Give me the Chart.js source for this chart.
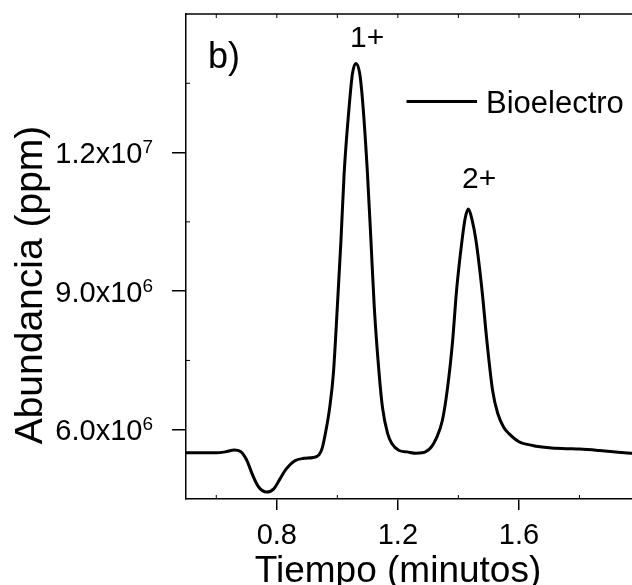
<!DOCTYPE html>
<html>
<head>
<meta charset="utf-8">
<script src="https://cdn.jsdelivr.net/npm/chart.js@4/dist/chart.umd.min.js"></script>
<style>
  html, body { margin: 0; padding: 0; overflow: hidden; background: #fff; }
  #wrap { position: absolute; left: 0; top: 0; width: 660px; height: 585px; }
</style>
</head>
<body>
<div id="wrap"><canvas id="c" width="660" height="585"></canvas></div>
<script>
// ---- data ----
const timeMin = [0.50, 0.55, 0.60, 0.63, 0.66, 0.68, 0.70, 0.72, 0.74, 0.767, 0.79, 0.81, 0.83, 0.86, 0.89, 0.92, 0.94, 0.95, 0.96, 0.975, 0.987, 1.00, 1.012, 1.0225, 1.039, 1.05, 1.061, 1.074, 1.085, 1.0995, 1.111, 1.122, 1.138, 1.149, 1.166, 1.18, 1.204, 1.23, 1.26, 1.28, 1.293, 1.31, 1.326, 1.347, 1.364, 1.381, 1.394, 1.412, 1.423, 1.433, 1.445, 1.458, 1.478, 1.494, 1.513, 1.53, 1.55, 1.568, 1.60, 1.645, 1.70, 1.755, 1.80, 1.866, 1.92, 1.971, 2.0];
const abundance = [5.50e6, 5.50e6, 5.50e6, 5.52e6, 5.56e6, 5.53e6, 5.35e6, 5.02e6, 4.76e6, 4.65e6, 4.72e6, 4.93e6, 5.14e6, 5.33e6, 5.38e6, 5.40e6, 5.46e6, 5.60e6, 5.90e6, 6.49e6, 7.22e6, 8.66e6, 10.10e6, 11.55e6, 12.99e6, 13.71e6, 13.93e6, 13.71e6, 12.99e6, 11.55e6, 10.10e6, 8.66e6, 7.22e6, 6.49e6, 5.92e6, 5.70e6, 5.55e6, 5.52e6, 5.49e6, 5.50e6, 5.53e6, 5.62e6, 5.80e6, 6.20e6, 6.90e6, 7.93e6, 9.02e6, 10.10e6, 10.60e6, 10.78e6, 10.55e6, 10.10e6, 9.02e6, 7.93e6, 6.85e6, 6.35e6, 6.05e6, 5.91e6, 5.74e6, 5.66e6, 5.61e6, 5.59e6, 5.58e6, 5.55e6, 5.52e6, 5.49e6, 5.48e6];
const seriesName = 'Bioelectro';
const xTicks = [0.8, 1.2, 1.6];
const xMinorTicks = [0.6, 1.0, 1.4, 1.8];
const yTicks = [6.0e6, 9.0e6, 1.2e7];
const yTickMantissa = ['6.0', '9.0', '1.2'];
const yTickExponent = ['6', '6', '7'];
const yMinorTicks = [7.5e6, 1.05e7, 1.35e7];
const peakLabels = ['1+', '2+'];
const panelLabel = 'b)';
const xTitle = 'Tiempo (minutos)';
const yTitle = 'Abundancia (ppm)';

const FONT = "'Liberation Sans', Arial, sans-serif";
const points = timeMin.map((t, i) => ({ x: t, y: abundance[i] }));

const decor = {
  id: 'decor',
  afterDraw(chart) {
    const ctx = chart.ctx, a = chart.chartArea;
    const xs = chart.scales.x, ys = chart.scales.y;
    ctx.save();
    ctx.strokeStyle = '#000';
    ctx.fillStyle = '#000';
    ctx.lineWidth = 1.5;
    // top frame line
    ctx.beginPath(); ctx.moveTo(a.left, a.top); ctx.lineTo(a.right, a.top); ctx.stroke();
    // inward minor ticks
    ctx.lineWidth = 1;
    ctx.beginPath();
    xMinorTicks.forEach(v => { const p = xs.getPixelForValue(v); ctx.moveTo(p, a.bottom); ctx.lineTo(p, a.bottom - 4); });
    xMinorTicks.concat(xTicks).forEach(v => { const p = xs.getPixelForValue(v); ctx.moveTo(p, a.top); ctx.lineTo(p, a.top + 4); });
    yMinorTicks.forEach(v => { const p = ys.getPixelForValue(v); ctx.moveTo(a.left, p); ctx.lineTo(a.left + 4, p); });
    ctx.stroke();

    // y tick labels with superscript exponents
    ctx.textBaseline = 'alphabetic';
    yTicks.forEach((v, i) => {
      const p = ys.getPixelForValue(v);
      const main = yTickMantissa[i] + 'x10';
      ctx.font = '19px ' + FONT;
      const ew = ctx.measureText(yTickExponent[i]).width;
      const rightEdge = a.left - 33;
      ctx.textAlign = 'left';
      ctx.fillText(yTickExponent[i], rightEdge - ew, p + 0.5);
      ctx.font = '29px ' + FONT;
      ctx.textAlign = 'right';
      ctx.fillText(main, rightEdge - ew, p + 10.5);
    });

    // axis titles
    ctx.font = '37px ' + FONT;
    ctx.textAlign = 'center';
    ctx.fillText(xTitle, 398, 582);
    ctx.save();
    ctx.translate(42, 285);
    ctx.rotate(-Math.PI / 2);
    ctx.font = '39px ' + FONT;
    ctx.fillText(yTitle, 0, 0);
    ctx.restore();

    // panel label and peak labels
    ctx.textAlign = 'left';
    ctx.font = '36px ' + FONT;
    ctx.fillText(panelLabel, 208, 68);
    ctx.font = '30px ' + FONT;
    ctx.textAlign = 'center';
    ctx.fillText(peakLabels[0], xs.getPixelForValue(1.0985), 46.5);
    ctx.fillText(peakLabels[1], xs.getPixelForValue(1.4685), 188);

    // legend
    ctx.lineWidth = 3;
    ctx.beginPath(); ctx.moveTo(406.5, 101.5); ctx.lineTo(477, 101.5); ctx.stroke();
    ctx.font = '31px ' + FONT;
    ctx.textAlign = 'left';
    ctx.fillText(chart.data.datasets[0].label, 486, 113);
    ctx.restore();
  }
};

new Chart(document.getElementById('c'), {
  type: 'line',
  data: {
    datasets: [{
      label: seriesName,
      data: points,
      borderColor: '#000',
      borderWidth: 3,
      pointRadius: 0,
      fill: false,
      cubicInterpolationMode: 'monotone'
    }]
  },
  options: {
    responsive: false,
    devicePixelRatio: 1,
    animation: false,
    layout: { padding: { left: 0, top: 14, right: 20, bottom: 0 } },
    plugins: { legend: { display: false }, tooltip: { enabled: false }, title: { display: false } },
    scales: {
      x: {
        type: 'linear',
        min: 0.5, max: 2.0,
        afterBuildTicks: s => { s.ticks = xTicks.map(v => ({ value: v })); },
        afterFit: s => { s.height = 86; },
        grid: { drawOnChartArea: false, drawTicks: true, tickLength: 11, color: '#000', lineWidth: 1.5 },
        border: { display: true, color: '#000', width: 1.5 },
        ticks: { color: '#000', font: { family: FONT, size: 29 }, padding: 9, maxRotation: 0, callback: v => v.toFixed(1) }
      },
      y: {
        type: 'linear',
        min: 4.5e6, max: 1.5e7,
        afterBuildTicks: s => { s.ticks = yTicks.map(v => ({ value: v })); },
        afterFit: s => { s.width = 186; },
        grid: { drawOnChartArea: false, drawTicks: true, tickLength: 14, color: '#000', lineWidth: 1.5 },
        border: { display: true, color: '#000', width: 1.5 },
        ticks: { display: false }
      }
    }
  },
  plugins: [decor]
});
</script>
</body>
</html>
